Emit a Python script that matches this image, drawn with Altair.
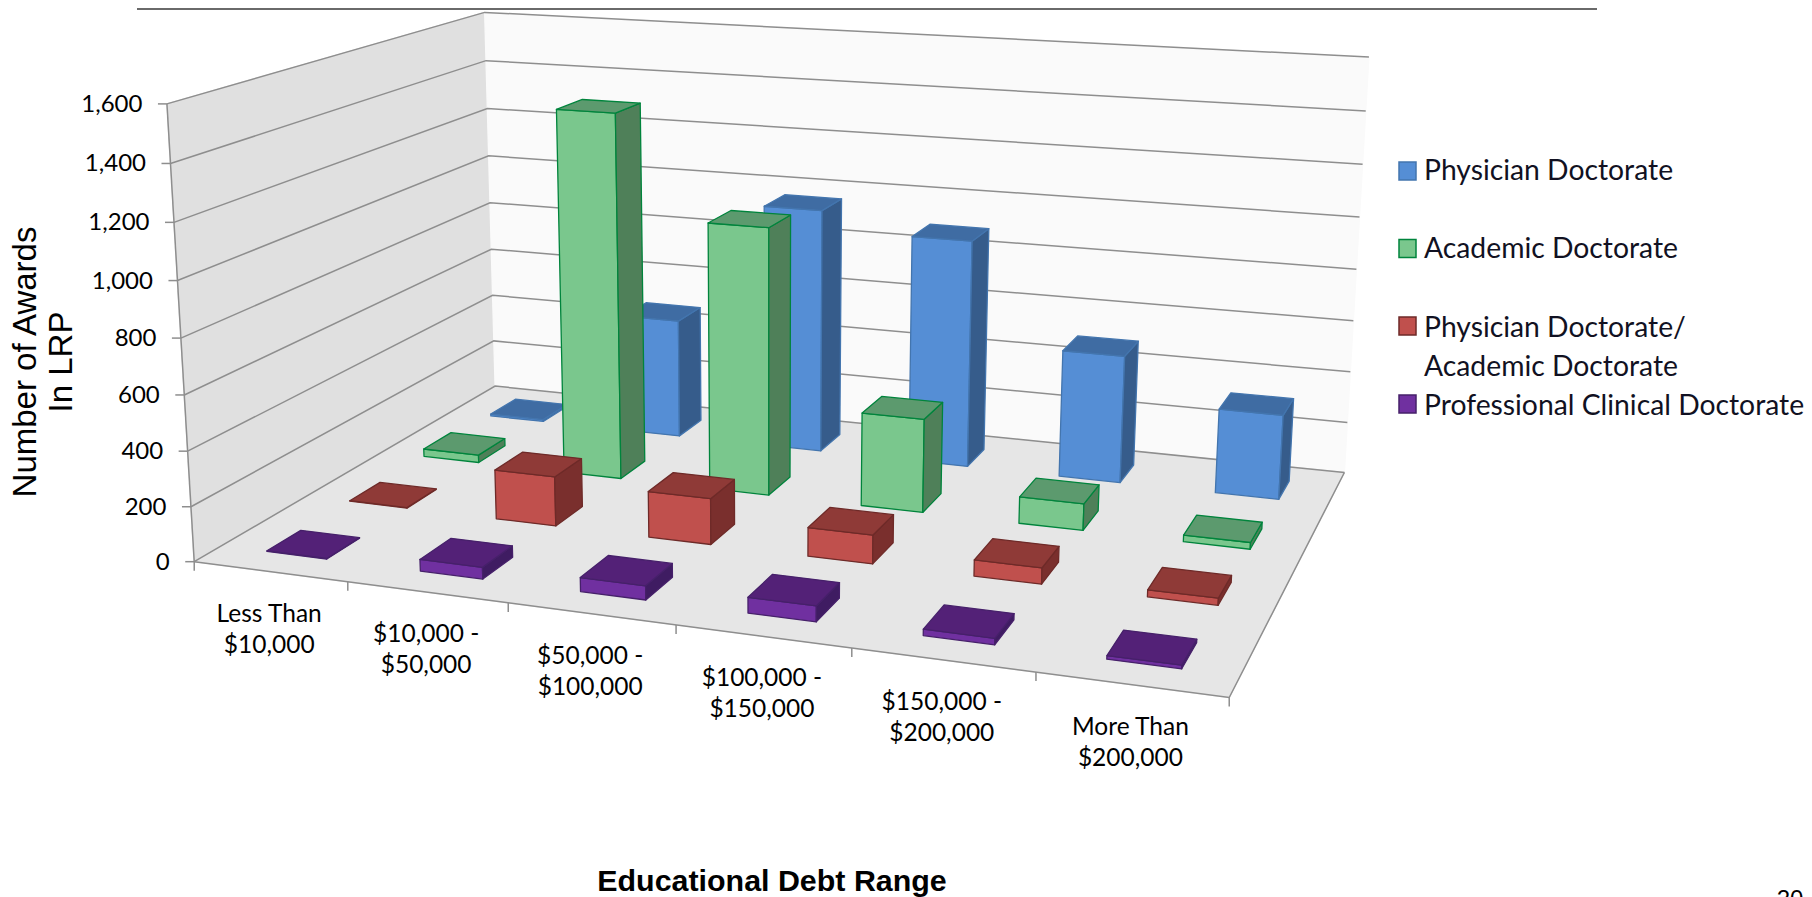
import altair as alt
import numpy as np
import pandas as pd

# ---- chart values
categories = ["Less Than\n$10,000", "$10,000 -\n$50,000", "$50,000 -\n$100,000",
              "$100,000 -\n$150,000", "$150,000 -\n$200,000", "More Than\n$200,000"]
physician = [8, 475, 965, 890, 495, 325]
academic = [30, 1405, 1020, 355, 100, 25]
dual = [2, 185, 170, 105, 58, 25]
clinical = [2, 42, 50, 55, 22, 12]
y_ticks = [0, 200, 400, 600, 800, 1000, 1200, 1400, 1600]
y_labels = ["0", "200", "400", "600", "800", "1,000", "1,200", "1,400", "1,600"]
series_names = ["Physician Doctorate", "Academic Doctorate",
                "Physician Doctorate/\nAcademic Doctorate", "Professional Clinical Doctorate"]
Y_MAX = 1600

# ---- styles (front, side, top, stroke) by series, back row first
styles = [("#558ed5", "#365c8b", "#3f6ca3", "#4375ae"),
          ("#7ac78d", "#4f8059", "#5c9a6e", "#00843c"),
          ("#c0504d", "#7a2f2d", "#8f3a37", "#6e2a28"),
          ("#7030a0", "#3f1c62", "#532177", "#46206a")]
series_values = [physician, academic, dual, clinical]

# ---- camera calibration of the 3-D box (u along categories, v depth, w height)
calib = []
front_edge = [(194.6, 561), (348.7, 583), (508, 603), (676, 626.7), (851.7, 648), (1036, 673), (1228.6, 696.7)]
for k, p in enumerate(front_edge):
    calib.append(((k / 6, 0, 0), p))
front_axis = [(194.6, 561), (190.2, 506.7), (187.9, 450.7), (184.7, 395), (180.3, 337.7), (176.7, 280.7), (173.6, 221.7), (170.4, 163), (168.2, 104)]
back_left = [(495, 386.7), (494, 340.7), (492.8, 295.3), (491.4, 249), (489.6, 202.7), (488.3, 156), (487, 108.3), (486, 61), (484.7, 12.7)]
back_right = [(1344.2, 471.7), (1347.3, 421.7), (1350.3, 371.7), (1353.8, 321), (1356.8, 269), (1359.5, 217.3), (1362.6, 164.3), (1365.6, 111), (1369, 57.3)]
for k in range(9):
    calib.append(((0, 0, k / 8), front_axis[k]))
    calib.append(((0, 1, k / 8), back_left[k]))
    calib.append(((1, 1, k / 8), back_right[k]))

A = []
for (u, v, w), (x, y) in calib:
    Xh = [u, v, w, 1]
    A.append([*Xh, 0, 0, 0, 0, *[-x / 1000 * c for c in Xh]])
    A.append([0, 0, 0, 0, *Xh, *[-y / 1000 * c for c in Xh]])
P = np.linalg.svd(np.array(A))[2][-1].reshape(3, 4)


def proj(u, v, w):
    q = P @ np.array([u, v, w, 1.0])
    return float(q[0] / q[2] * 1000), float(q[1] / q[2] * 1000)


BAR_U = 0.395 / 6   # bar footprint, along the categories
BAR_V = 0.395 / 4   # bar footprint, in depth

faces = []
face_n = [0]


def add_face(corners, fill, stroke):
    fid = f"f{face_n[0]:04d}"
    face_n[0] += 1
    for i, c in enumerate(corners):
        x, y = proj(*c)
        faces.append(dict(face=fid, k=i, px=x, py=y, fill=fill, stroke=stroke))


add_face([(0, 0, 0), (0, 1, 0), (0, 1, 1), (0, 0, 1)], "#e0e0e0", "#e0e0e0")
add_face([(0, 1, 0), (1, 1, 0), (1, 1, 1), (0, 1, 1)], "#fafafa", "#fafafa")
add_face([(0, 0, 0), (1, 0, 0), (1, 1, 0), (0, 1, 0)], "#e6e6e6", "#e6e6e6")

for r, (vals, st) in enumerate(zip(series_values, styles)):
    vc = (7 - 2 * r) / 8
    d0, d1 = vc - BAR_V / 2, vc + BAR_V / 2
    for c, val in enumerate(vals):
        uc = (c + 0.5) / 6
        u0, u1 = uc - BAR_U / 2, uc + BAR_U / 2
        h = val / Y_MAX
        add_face([(u0, d0, 0), (u1, d0, 0), (u1, d0, h), (u0, d0, h)], st[0], st[3])
        add_face([(u1, d0, 0), (u1, d1, 0), (u1, d1, h), (u1, d0, h)], st[1], st[3])
        add_face([(u0, d0, h), (u1, d0, h), (u1, d1, h), (u0, d1, h)], st[2], st[3])
faces_df = pd.DataFrame(faces)

# ---- lines
lines = []


def add_line(pts, name):
    for i, p in enumerate(pts):
        x, y = proj(*p) if len(p) == 3 else p
        lines.append(dict(line=name, k=i, px=x, py=y))


for t in y_ticks:
    w = t / Y_MAX
    add_line([(0, 0, w), (0, 1, w), (1, 1, w)], f"g{t}")
    x, y = proj(0, 0, w)
    add_line([(x - 9, y), (x, y)], f"yt{t}")
add_line([(0, 0, 0), (0, 0, 1)], "axis")
add_line([(0, 0, 0), (1, 0, 0), (1, 1, 0)], "floor")
for k in range(7):
    x, y = proj(k / 6, 0, 0)
    add_line([(x, y), (x, y + 9)], f"xt{k}")
lines_df = pd.DataFrame(lines)

# ---- text tables
ytxt = []
for t, lab in zip(y_ticks, y_labels):
    x, y = proj(0, 0, t / Y_MAX)
    ytxt.append(dict(px=x - 24.5, py=y + 1, label=lab))
ytxt_df = pd.DataFrame(ytxt)

xtxt = []
for i, lab in enumerate(categories):
    x, y = proj((i + 0.5) / 6, 0, 0)
    xtxt.append(dict(px=x - 1, py=y + 43, label=lab))
xtxt_df = pd.DataFrame(xtxt)

legend_rows = [171, 248.5, 326, 404]
leg_df = pd.DataFrame(dict(x0=[1399] * 4, x1=[1416] * 4,
                           y0=[y - 9 for y in legend_rows], y1=[y + 9 for y in legend_rows],
                           fill=[s[0] for s in styles], stroke=[s[3] for s in styles]))
legtxt_df = pd.DataFrame(dict(px=[1424] * 4, py=[172, 249.5, 328.5, 406.5], label=series_names))

# ---- scales in page pixels
W, H = 1796, 889
xs = alt.Scale(domain=[8, 8 + W], range=[0, W], nice=False, zero=False)
ys = alt.Scale(domain=[8, 8 + H], range=[0, H], nice=False, zero=False)
X = alt.X("px:Q", scale=xs, axis=None)
Y = alt.Y("py:Q", scale=ys, axis=None)

poly = alt.Chart(faces_df).mark_line(interpolate="linear-closed", strokeWidth=1.3, strokeJoin="round", clip=False).encode(
    x=X, y=Y, order="k:Q", detail="face:N",
    fill=alt.Fill("fill:N", scale=None, legend=None),
    stroke=alt.Stroke("stroke:N", scale=None, legend=None))

wall_ids = ["f0000", "f0001", "f0002"]
walls = poly.transform_filter(alt.FieldOneOfPredicate(field="face", oneOf=wall_ids))
bars = poly.transform_filter(alt.FieldOneOfPredicate(field="face", oneOf=sorted(set(faces_df.face) - set(wall_ids))))

grid = alt.Chart(lines_df).mark_line(color="#8e8e8e", strokeWidth=1.5).encode(
    x=X, y=Y, order="k:Q", detail="line:N")

ylabs = alt.Chart(ytxt_df).mark_text(font="Lato", fontSize=24, align="right", baseline="middle", color="black").encode(
    x=X, y=Y, text="label:N")
xlabs = alt.Chart(xtxt_df).mark_text(font="Lato", fontSize=24.5, align="center", baseline="middle", color="black",
                                     lineBreak="\n", lineHeight=31).encode(x=X, y=Y, text="label:N")
legs = alt.Chart(leg_df).mark_rect(strokeWidth=1.5).encode(
    x=alt.X("x0:Q", scale=xs, axis=None), x2="x1:Q",
    y=alt.Y("y0:Q", scale=ys, axis=None), y2="y1:Q",
    fill=alt.Fill("fill:N", scale=None), stroke=alt.Stroke("stroke:N", scale=None))
legt = alt.Chart(legtxt_df).mark_text(font="Lato", fontSize=28.3, align="left", baseline="middle", color="#111122",
                                      lineBreak="\n", lineHeight=39).encode(x=X, y=Y, text="label:N")

ytitle = alt.Chart(pd.DataFrame(dict(px=[26], py=[362], label=["Number of Awards\nIn LRP"]))).mark_text(
    font="Liberation Sans", fontSize=33, angle=270, align="center", baseline="middle", color="black",
    lineBreak="\n", lineHeight=36).encode(x=X, y=Y, text="label:N")
xtitle = alt.Chart(pd.DataFrame(dict(px=[772], py=[882], label=["Educational Debt Range"]))).mark_text(
    font="Liberation Sans", fontSize=30.4, fontWeight="bold", align="center", baseline="middle", color="black").encode(
    x=X, y=Y, text="label:N")
page = alt.Chart(pd.DataFrame(dict(px=[1790], py=[888], label=["20"]))).mark_text(
    font="Liberation Sans", fontSize=24, align="center", baseline="top", color="black").encode(x=X, y=Y, text="label:N")

frame_df = pd.DataFrame(dict(k=[0, 1, 2, 3], px=[138, 138, 1596, 1596], py=[8, 9, 9, 8]))
frame = alt.Chart(frame_df).mark_line(color="#6a6a6a", strokeWidth=2).encode(x=X, y=Y, order="k:Q")

chart = alt.layer(walls, grid, bars, ylabs, xlabs, legs, legt, ytitle, xtitle, page, frame).properties(
    width=W, height=H, padding=0, autosize="none", background="white"
).configure_view(stroke=None)

chart.save("out.html", embed_options={"renderer": "svg", "actions": False})
